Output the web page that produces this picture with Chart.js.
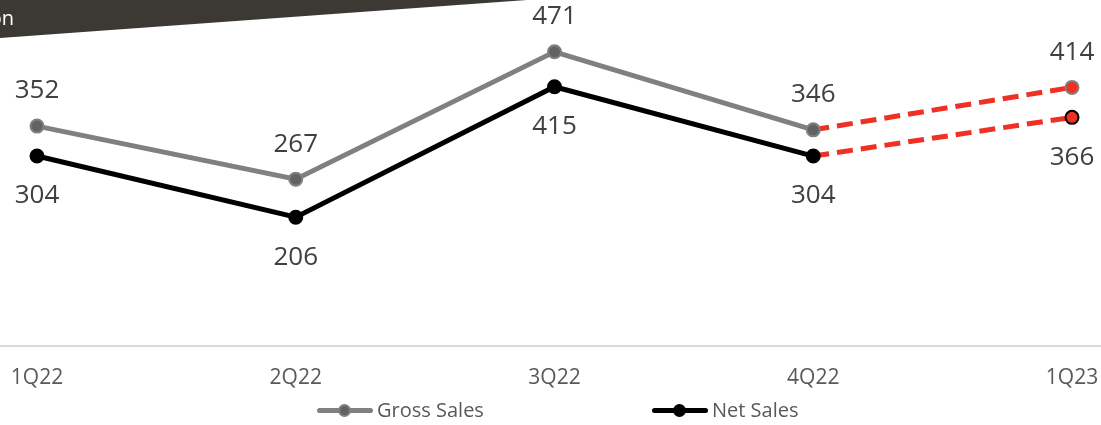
<!DOCTYPE html>
<html>
<head>
<meta charset="utf-8">
<script src="https://cdn.jsdelivr.net/npm/chart.js@4.4.1/dist/chart.umd.min.js"></script>
<style>
    html, body { margin: 0; padding: 0; background: #fff; }
    .wrap { position: relative; width: 1101px; height: 425px; overflow: hidden; }
    .legend { position: absolute; top: 398px; left: 0; width: 1101px; height: 24px;
              font-family: 'Open Sans', sans-serif; font-size: 20px; color: #595959; }
    .legend .item { position: absolute; top: 0; display: flex; align-items: center; height: 24px; }
    .legend .icon { position: relative; width: 56px; height: 24px; }
    .legend .icon .ln { position: absolute; left: 0; right: 0; top: 10px; height: 5px; border-radius: 3px; }
    .legend .icon .dot { position: absolute; left: 21px; top: 6px; width: 13px; height: 13px; border-radius: 50%; box-sizing: border-box; }
    .legend .txt { margin-left: 4px; line-height: 24px; }
</style>
</head>
<body>
<div class="wrap">
    <canvas id="sales-chart" width="1101" height="425"></canvas>
    <div class="legend" id="legend"></div>
</div>
<script>
(function() {
    // 四半期ラベル
    const quarters = ['1Q22', '2Q22', '3Q22', '4Q22', '1Q23'];
    // 売上（単位: million）
    const grossSales = [352, 267, 471, 346, 414];
    const netSales = [304, 206, 415, 304, 366];
    // 見込み値のインデックス（最後の四半期）
    const estimateIndex = 4;

    const GREY = '#808080';
    const GREY_DOT = '#626262';
    const BLACK = '#000000';
    const RED = '#EE3124';

    function toPoints(values) {
        return values.map((v, i) => ({ x: i, y: v }));
    }

    function pointFill(base) {
        return quarters.map((q, i) => i === estimateIndex ? RED : base);
    }

    // 上部のバナー
    const bannerPlugin = {
        id: 'banner',
        beforeDraw(chart) {
            const ctx = chart.ctx;
            ctx.save();
            ctx.fillStyle = '#3c3934';
            ctx.beginPath();
            ctx.moveTo(0, 0);
            ctx.lineTo(527, 0);
            ctx.lineTo(0, 38);
            ctx.closePath();
            ctx.fill();
            ctx.fillStyle = '#ffffff';
            ctx.font = '20px "Open Sans", sans-serif';
            ctx.textAlign = 'right';
            ctx.textBaseline = 'middle';
            ctx.fillText('USD Million', 14, 19);
            ctx.restore();
        }
    };

    // データラベル（Gross は上、Net は下）
    const valueLabels = {
        id: 'valueLabels',
        afterDatasetsDraw(chart) {
            const ctx = chart.ctx;
            ctx.save();
            ctx.font = '26px "Open Sans", sans-serif';
            ctx.fillStyle = '#404040';
            ctx.textAlign = 'center';
            ctx.textBaseline = 'middle';
            chart.data.datasets.forEach((ds, di) => {
                const meta = chart.getDatasetMeta(di);
                meta.data.forEach((pt, i) => {
                    const offset = ds.labelPos === 'top' ? -35 : 40;
                    ctx.fillText(String(ds.data[i].y), pt.x, pt.y + offset);
                });
            });
            ctx.restore();
        }
    };

    const segmentStyle = {
        borderColor: ctx => ctx.p1DataIndex === estimateIndex ? RED : undefined,
        borderDash: ctx => ctx.p1DataIndex === estimateIndex ? [16, 8] : undefined
    };

    new Chart(document.getElementById('sales-chart'), {
        type: 'line',
        data: {
            datasets: [{
                label: 'Gross Sales',
                data: toPoints(grossSales),
                labelPos: 'top',
                borderColor: GREY,
                borderWidth: 5,
                pointRadius: 6.5,
                pointBackgroundColor: pointFill(GREY_DOT),
                pointBorderColor: GREY,
                pointBorderWidth: 2,
                segment: segmentStyle,
                tension: 0
            }, {
                label: 'Net Sales',
                data: toPoints(netSales),
                labelPos: 'bottom',
                borderColor: BLACK,
                borderWidth: 5,
                pointRadius: 6.5,
                pointBackgroundColor: pointFill(BLACK),
                pointBorderColor: BLACK,
                pointBorderWidth: 2,
                segment: segmentStyle,
                tension: 0
            }]
        },
        options: {
            responsive: false,
            animation: false,
            layout: {
                autoPadding: false,
                padding: { left: 0, right: 0, top: 0, bottom: 14 }
            },
            plugins: {
                legend: { display: false },
                tooltip: { enabled: false }
            },
            scales: {
                x: {
                    type: 'linear',
                    min: -0.143,
                    max: 4.112,
                    grid: { display: false, drawTicks: false },
                    border: { display: true, color: '#d9d9d9', width: 2 },
                    afterFit: function(scale) {
                        // 端のラベル用の余白は不要
                        scale.paddingLeft = 0;
                        scale.paddingRight = 0;
                    },
                    ticks: {
                        stepSize: 1,
                        includeBounds: false,
                        autoSkip: false,
                        maxRotation: 0,
                        padding: 20,
                        color: '#595959',
                        font: { family: '"Open Sans", sans-serif', size: 21 },
                        callback: function(value) {
                            return Number.isInteger(value) ? (quarters[value] || '') : '';
                        }
                    }
                },
                y: {
                    display: false,
                    min: 0,
                    max: 554
                }
            }
        },
        plugins: [bannerPlugin, valueLabels]
    });

    // 凡例
    const legendItems = [
        { text: 'Gross Sales', line: GREY, dot: GREY_DOT, dotBorder: GREY, left: 317 },
        { text: 'Net Sales', line: BLACK, dot: BLACK, dotBorder: BLACK, left: 652 }
    ];
    const legendEl = document.getElementById('legend');
    legendItems.forEach(item => {
        const el = document.createElement('div');
        el.className = 'item';
        el.style.left = item.left + 'px';
        el.innerHTML = `<div class="icon"><div class="ln" style="background:${item.line}"></div>` +
            `<div class="dot" style="background:${item.dot};border:2px solid ${item.dotBorder}"></div></div>` +
            `<span class="txt">${item.text}</span>`;
        legendEl.appendChild(el);
    });
})();
</script>
</body>
</html>
